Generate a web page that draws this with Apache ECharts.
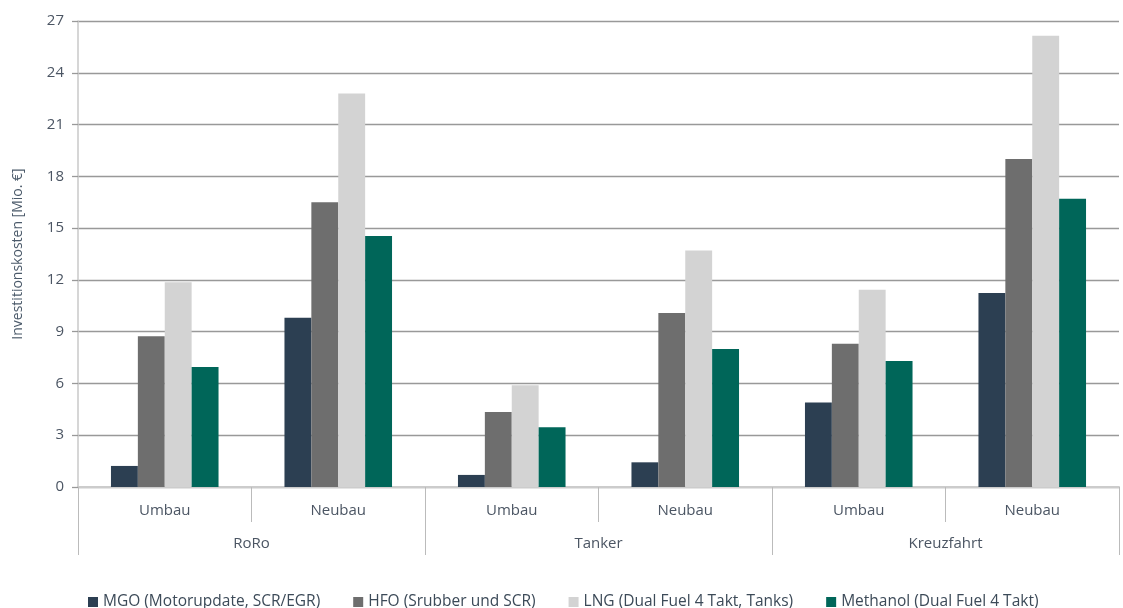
<!DOCTYPE html>
<html>
<head>
<meta charset="utf-8">
<script src="https://cdn.jsdelivr.net/npm/echarts@6/dist/echarts.min.js"></script>
<style>
html,body{margin:0;padding:0;background:#fff;}
#c{width:1123px;height:608px;}
</style>
</head>
<body>
<div id="c"></div>
<script>
const subCategories = ['Umbau','Neubau','Umbau','Neubau','Umbau','Neubau'];
const groups = ['RoRo','Tanker','Kreuzfahrt'];
const seriesNames = ['MGO (Motorupdate, SCR/EGR)','HFO (Srubber und SCR)','LNG (Dual Fuel 4 Takt, Tanks)','Methanol (Dual Fuel 4 Takt)'];
const mgo = [1.22, 9.8, 0.7, 1.43, 4.9, 11.24];
const hfo = [8.73, 16.5, 4.35, 10.08, 8.3, 19.0];
const lng = [11.86, 22.8, 5.9, 13.7, 11.43, 26.15];
const methanol = [6.95, 14.55, 3.46, 8.0, 7.3, 16.7];
const yTicks = {min:0, max:27, interval:3};
const colors = ['#2c3f52','#6e6e6e','#d3d3d3','#006659'];

const textColor = '#4b5563';
const font = 'Open Sans';
const chart = echarts.init(document.getElementById('c'));
const values = [mgo, hfo, lng, methanol];
chart.setOption({
  animation:false,
  color:colors,
  textStyle:{fontFamily:font},
  grid:{left:78, right:4, top:21, bottom:121},
  legend:{
    top:589, left:83,
    itemWidth:10, itemHeight:10, itemGap:33, icon:'rect',
    textStyle:{fontFamily:font, fontSize:15.5, color:'#3c4a58'},
    data:seriesNames
  },
  xAxis:[
    {
      type:'category', data:subCategories, position:'bottom',
      axisLine:{show:true, lineStyle:{color:'#cccccc', width:2}},
      axisTick:{show:true, alignWithLabel:false, interval:0, length:35, lineStyle:{color:'#bbbbbb'}},
      axisLabel:{color:textColor, fontSize:15, margin:16, fontFamily:font}
    },
    {
      type:'category', data:groups, position:'bottom', offset:0,
      axisLine:{show:false},
      axisTick:{show:true, interval:0, length:68, lineStyle:{color:'#bbbbbb'}},
      axisLabel:{color:textColor, fontSize:15, margin:49, fontFamily:font}
    }
  ],
  yAxis:{
    type:'value', min:yTicks.min, max:yTicks.max, interval:yTicks.interval,
    name:'Investitionskosten [Mio. €]', nameLocation:'middle', nameGap:53,
    nameTextStyle:{color:'#4b5a6a', fontSize:14, fontFamily:font},
    axisLine:{show:true, lineStyle:{color:'#c8c8c8', width:1.5}},
    axisTick:{show:true, length:6, lineStyle:{color:'#999999', width:1.3}},
    axisLabel:{color:textColor, fontSize:15, margin:14, fontFamily:font},
    splitLine:{lineStyle:{color:'#999999', width:1.3}}
  },
  series: seriesNames.map((n,i)=>({
    name:n, type:'bar', xAxisIndex:0, data:values[i],
    barGap:'0%', barCategoryGap:'38%',
    itemStyle:{color:colors[i]}
  }))
});
</script>
</body>
</html>
